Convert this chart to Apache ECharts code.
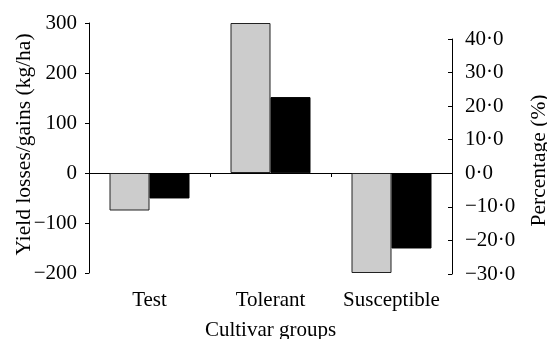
<!DOCTYPE html>
<html><head><meta charset="utf-8">
<script src="https://cdn.jsdelivr.net/npm/echarts@6/dist/echarts.min.js"></script>
<style>html,body{margin:0;padding:0;background:#fff}#c{width:547px;height:339px}</style>
</head><body><div id="c"></div>
<script>
var categories = ['Test', 'Tolerant', 'Susceptible'];
var yieldKgHa = [-75, 300, -200];
var percentChange = [-7.5, 22.7, -22.4];
var leftTicks = {min: -200, max: 300, interval: 100};
var rightTicks = {min: -30, max: 40, interval: 10};

var FONT = "'Liberation Serif', 'Times New Roman', serif";
var txt = {color: '#000', fontFamily: FONT, fontSize: 21};
var nameTxt = {color: '#000', fontFamily: FONT, fontSize: 21.5};
function minus(s){ return String(s).replace('-', '\u2212'); }
var chart = echarts.init(document.getElementById('c'), null, {renderer: 'canvas'});
var axisLineStyle = {lineStyle: {color: '#000', width: 1}};
chart.setOption({
  animation: false,
  grid: [
    {left: 89, right: 95, top: 23, height: 250, containLabel: false, outerBoundsMode: 'none'},
    {left: 89, right: 95, top: 39, height: 235, containLabel: false, outerBoundsMode: 'none'}
  ],
  xAxis: [
    {type: 'category', gridIndex: 0, data: categories,
     axisLine: {show: true, onZero: true, lineStyle: {color: '#000', width: 1}},
     axisTick: {show: true, length: 4, lineStyle: {color: '#000'}},
     axisLabel: {show: false}, splitLine: {show: false}},
    {type: 'category', gridIndex: 1, data: categories,
     axisLine: {show: false, onZero: false}, axisTick: {show: false},
     axisLabel: Object.assign({margin: 16, interval: 0}, txt),
     name: 'Cultivar groups', nameLocation: 'middle', nameGap: 46, nameMoveOverlap: false,
     nameTextStyle: txt, splitLine: {show: false}}
  ],
  yAxis: [
    {type: 'value', gridIndex: 0, position: 'left',
     min: leftTicks.min, max: leftTicks.max, interval: leftTicks.interval,
     axisLine: Object.assign({show: true, onZero: false}, axisLineStyle),
     axisTick: {show: true, length: 4, lineStyle: {color: '#000'}},
     axisLabel: Object.assign({margin: 12, formatter: function(v){ return minus(v); }}, txt),
     splitLine: {show: false},
     name: 'Yield losses/gains (kg/ha)', nameLocation: 'middle', nameGap: 54, nameRotate: 90,
     nameMoveOverlap: false,
     nameTextStyle: Object.assign({padding: [0, 0, 0, 7]}, nameTxt)},
    {type: 'value', gridIndex: 1, position: 'right',
     min: rightTicks.min, max: rightTicks.max, interval: rightTicks.interval,
     axisLine: Object.assign({show: true, onZero: false}, axisLineStyle),
     axisTick: {show: true, inside: true, length: 4, lineStyle: {color: '#000'}},
     axisLabel: Object.assign({margin: 13, formatter: function(v){ return minus(v.toFixed(1).replace('.', '\u00b7')); }}, txt),
     splitLine: {show: false},
     name: 'Percentage (%)', nameLocation: 'middle', nameGap: 76, nameRotate: 90,
     nameMoveOverlap: false,
     nameTextStyle: Object.assign({padding: [0, 8, 0, 0]}, nameTxt)}
  ],
  series: [
    {type: 'bar', name: 'Yield', xAxisIndex: 0, yAxisIndex: 0, data: yieldKgHa,
     barWidth: 40, barGap: '0%',
     itemStyle: {color: '#cccccc', borderColor: '#222', borderWidth: 1}},
    {type: 'bar', name: 'pad0', xAxisIndex: 0, yAxisIndex: 0, data: [null, null, null],
     barWidth: 40, barGap: '0%'},
    {type: 'bar', name: 'pad1', xAxisIndex: 1, yAxisIndex: 1, data: [null, null, null],
     barWidth: 40, barGap: '0%'},
    {type: 'bar', name: 'Percent', xAxisIndex: 1, yAxisIndex: 1, data: percentChange,
     barWidth: 40, barGap: '0%',
     itemStyle: {color: '#000', borderColor: '#000', borderWidth: 1}}
  ]
});
</script></body></html>
